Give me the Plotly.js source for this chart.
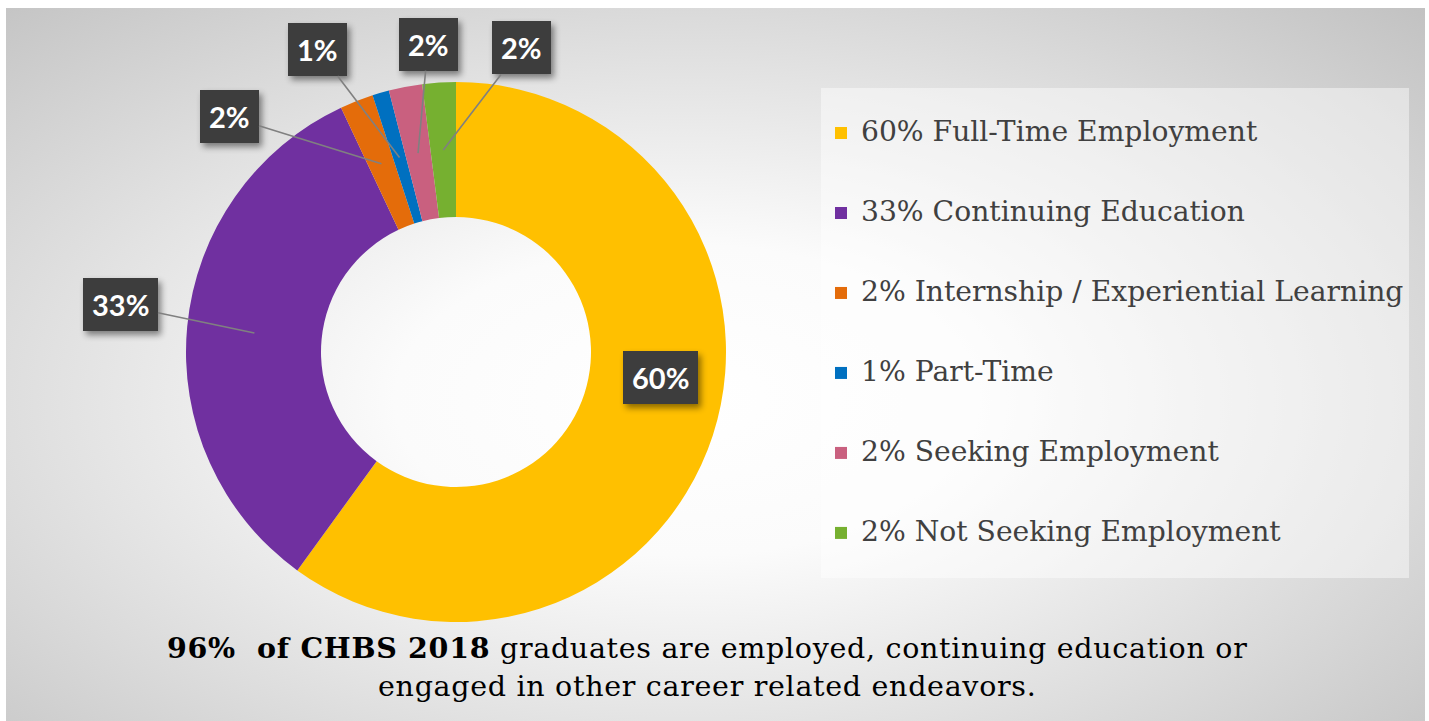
<!DOCTYPE html>
<html><head><meta charset="utf-8">
<script src="https://cdn.plot.ly/plotly-3.0.1.min.js"></script>
<style>
html,body{margin:0;padding:0;background:#ffffff;overflow:hidden}
#bg{position:absolute;left:6px;top:8px;width:1419px;height:713px;
 background:radial-gradient(ellipse farthest-corner at 48% 55%, #ffffff 0%, #fbfbfb 28%, #e2e2e2 60%, #c2c2c2 100%);}
#chart{position:absolute;left:0;top:0;width:1429px;height:721px}
.annotation .bg{filter:drop-shadow(3px 4px 3px rgba(0,0,0,0.45))}
</style></head><body>
<div id="bg"></div><div id="chart"></div>
<script>
// ---- data ----
const categories = ['Full-Time Employment','Continuing Education','Internship / Experiential Learning','Part-Time','Seeking Employment','Not Seeking Employment'];
const percents = [60, 33, 2, 1, 2, 2];
const sliceColors = ['#FFC000','#7030A0','#E46C0A','#0070C0','#C9607F','#76B030'];
const footnoteBold = '96%  of CHBS 2018';
const footnoteRest = ' graduates are employed, continuing education or';
const footnoteLine2 = 'engaged in other career related endeavors.';

// ---- layout constants ----
const W = 1429, H = 721;
const CX = 456, CY = 352, R = 270, HOLE = 0.5;
const RMID = R * (1 + HOLE) / 2;
// label box offsets (pixels) relative to the slice's mid-ring point
const labelOffsets = [[12,-37],[-134,-28],[-152,-47],[-82,-108],[10,-109],[78,-102]];
const labelArrow = [false, true, true, true, true, true];

const total = percents.reduce((a,b)=>a+b,0);
let cum = 0;
const annotations = [];
percents.forEach((p,i)=>{
  const mid = (cum + p/2)/total; cum += p;
  const th = 2*Math.PI*mid;
  const px = CX + RMID*Math.sin(th), py = CY - RMID*Math.cos(th);
  const [dx,dy] = labelOffsets[i];
  const a = {
    xref:'paper', yref:'paper', x: px/W, y: 1 - py/H,
    text: '<b>' + p + '%</b>',
    font:{family:'Lato, "Open Sans", sans-serif', size:29, color:'#ffffff'},
    bgcolor:'#3d3d3d', borderpad:9, borderwidth:0
  };
  if (labelArrow[i]) {
    Object.assign(a, {showarrow:true, ax:dx, ay:dy, arrowhead:0, arrowwidth:1.6, arrowcolor:'#808080', standoff:0});
  } else {
    Object.assign(a, {showarrow:false, xshift:dx, yshift:-dy});
  }
  annotations.push(a);
});

const fnStyle = 'font-size:28.5px;letter-spacing:0.7px';
annotations.push({
  xref:'paper', yref:'paper', x: 706.5/W, y: 1 - 667/H, xanchor:'center', yanchor:'middle',
  showarrow:false, align:'center',
  text: '<span style="' + fnStyle + '"><b>' + footnoteBold + '</b>' + footnoteRest + '</span><br><span style="' + fnStyle + '">' + footnoteLine2 + '</span>',
  font:{family:'"DejaVu Serif", serif', size:29, color:'#000000'}
});

const legendLabels = categories.map((c,i)=> '<br><span style="font-size:28.2px">' + percents[i] + '% ' + c + '</span><br>');

const trace = {
  type:'pie', values: percents, labels: legendLabels,
  marker:{colors: sliceColors, line:{width:0}},
  hole: HOLE, sort:false, direction:'clockwise', rotation:0,
  textinfo:'none', hoverinfo:'none',
  domain:{x:[(CX-R)/W, (CX+R)/W], y:[1-(CY+R)/H, 1-(CY-R)/H]}
};

const layout = {
  width: W, height: H,
  margin:{l:0,r:0,t:0,b:0},
  paper_bgcolor:'rgba(0,0,0,0)', plot_bgcolor:'rgba(0,0,0,0)',
  showlegend:true,
  legend:{x:821/W, y:1-88/H, xanchor:'left', yanchor:'top',
    bgcolor:'rgba(255,255,255,0.45)', borderwidth:0,
    font:{family:'"DejaVu Serif", serif', size:19.74, color:'#404040'}},
  annotations: annotations
};

Plotly.newPlot('chart', [trace], layout, {displayModeBar:false, staticPlot:true});
</script>
</body></html>
